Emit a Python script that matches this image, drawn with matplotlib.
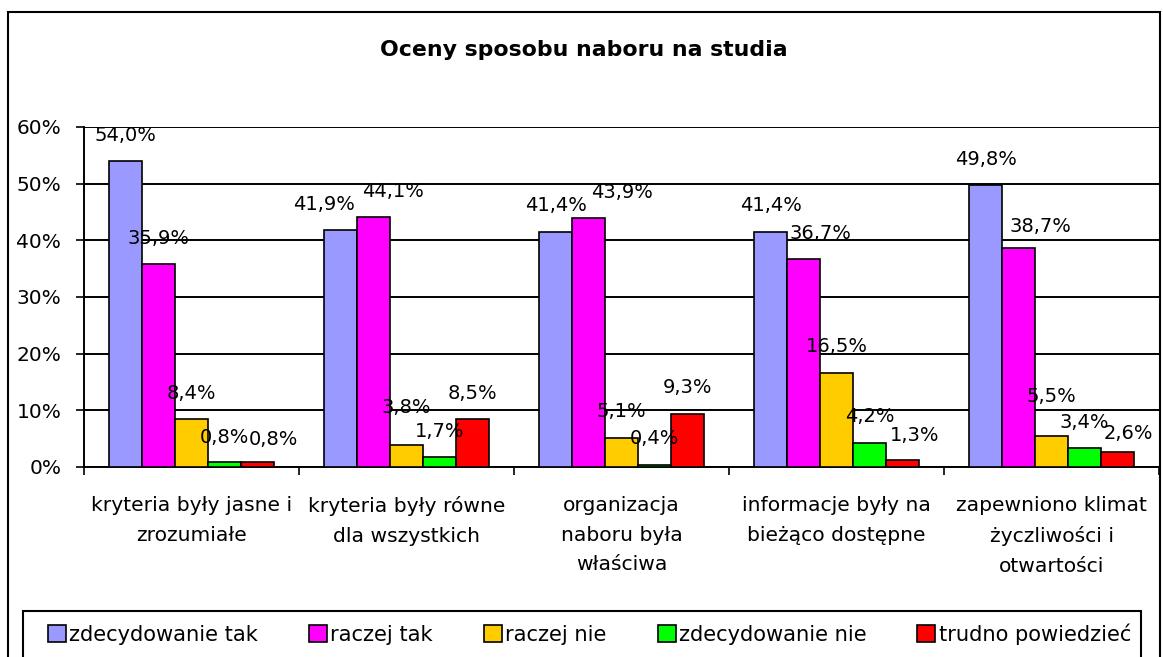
import matplotlib
matplotlib.use('Agg')
import matplotlib.pyplot as plt
import numpy as np
from matplotlib.patches import Rectangle

plt.rcParams['font.family'] = ['DejaVu Sans']

# Data
categories = ['kryteria były jasne i\nzrozumiałe',
              'kryteria były równe\ndla wszystkich',
              'organizacja\nnaboru była\nwłaściwa',
              'informacje były na\nbieżąco dostępne',
              'zapewniono klimat\nżyczliwości i\notwartości']
series_names = ['zdecydowanie tak', 'raczej tak', 'raczej nie',
                'zdecydowanie nie', 'trudno powiedzieć']
zdecydowanie_tak = [54.0, 41.9, 41.4, 41.4, 49.8]
raczej_tak = [35.9, 44.1, 43.9, 36.7, 38.7]
raczej_nie = [8.4, 3.8, 5.1, 16.5, 5.5]
zdecydowanie_nie = [0.8, 1.7, 0.4, 4.2, 3.4]
trudno_powiedziec = [0.8, 8.5, 9.3, 1.3, 2.6]
series = [zdecydowanie_tak, raczej_tak, raczej_nie, zdecydowanie_nie, trudno_powiedziec]
colors = ['#9999FF', '#FF00FF', '#FFCC00', '#00FF00', '#FF0000']
yticks = [0, 10, 20, 30, 40, 50, 60]

# hand-moved data labels (pixel shifts, per series / per category)
label_dx = [[0, -17, 0, 0, 0],
            [0, 19, 33, 17, 22],
            [0, 0, 0, 0, 0],
            [0, 0, 0, 0, 0],
            [16, 0, 0, 12, 11]]
label_dy = [[27, 27, 28, 28, 27],
            [27, 27, 27, 27, 23],
            [27, 39, 28, 28, 41],
            [26, 27, 28, 28, 27],
            [24, 27, 28, 26, 20]]

fig = plt.figure(figsize=(11.63, 6.57), dpi=100)
ax = fig.add_axes([0.0722, 0.2892, 0.9244, 0.5175])

# outer frame and legend frame
fig.patches.append(Rectangle((0.0069, -0.1), 0.9905, 1.0817, transform=fig.transFigure,
                             fill=False, edgecolor='black', linewidth=1.5))
fig.patches.append(Rectangle((0.0195, -0.1), 0.962, 0.1700, transform=fig.transFigure,
                             fill=False, edgecolor='black', linewidth=1.5))

x = np.arange(len(categories)) + 0.5
w = 0.1534
px2pt = 0.72
for j, (vals, name, col) in enumerate(zip(series, series_names, colors)):
    pos = x + (j - 2) * w
    ax.bar(pos, vals, width=w, color=col, edgecolor='black', linewidth=1.2,
           label=name, zorder=3)
    for i, (bx, v) in enumerate(zip(pos, vals)):
        ax.annotate(f'{v:.1f}%'.replace('.', ','), (bx, v),
                    xytext=(label_dx[j][i] * px2pt, (label_dy[j][i] - 7) * px2pt),
                    textcoords='offset points', ha='center', va='baseline',
                    fontsize=14, zorder=4)

ax.set_xlim(0, 5)
ax.set_ylim(0, 60)
ax.set_yticks(yticks)
ax.set_yticklabels([f'{t}%' for t in yticks])
ax.yaxis.grid(True, color='black', linewidth=1.4, zorder=0)
ax.set_axisbelow(True)

ax.set_xticks(np.arange(0, 6))
ax.set_xticklabels([])
ax.set_xticks(x, minor=True)
ax.set_xticklabels(categories, minor=True, fontsize=14.6, linespacing=1.7)
ax.tick_params(axis='x', which='minor', length=0, pad=21)
ax.tick_params(axis='x', which='major', length=6, width=1.2, direction='out')
ax.tick_params(axis='y', length=5.8, width=1.2, labelsize=14.5, pad=10.5)

for s in ['top', 'right']:
    ax.spines[s].set_visible(False)
for s in ['left', 'bottom']:
    ax.spines[s].set_linewidth(1.4)

fig.text(0.5017, 0.9148, 'Oceny sposobu naboru na studia', ha='center', va='baseline',
         fontsize=15.8, fontweight='bold')

fig.legend(loc='center', bbox_to_anchor=(48 / 1163, 0.02, (1131 - 48) / 1163, 0.03),
           mode='expand', ncol=5, frameon=False, fontsize=15.1,
           handlelength=0.86, handleheight=0.86, handletextpad=0.15,
           borderpad=0, borderaxespad=0)

fig.savefig('out.png', dpi=100)
